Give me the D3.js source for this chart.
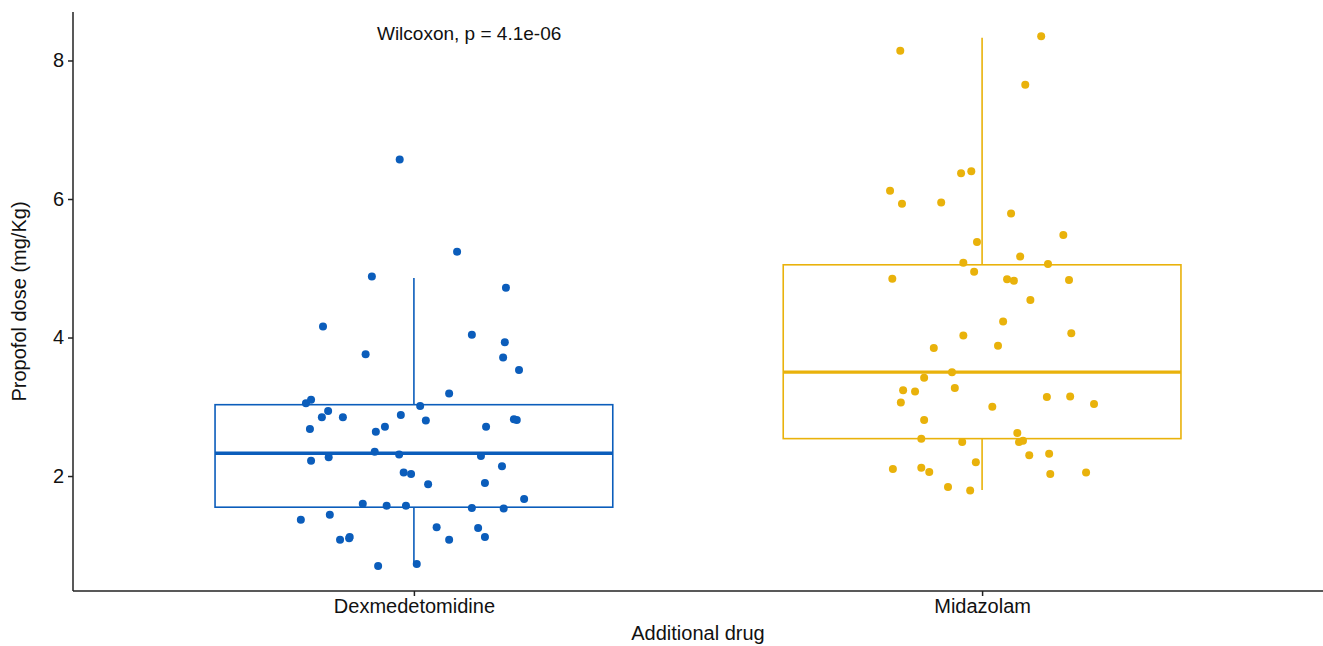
<!DOCTYPE html>
<html>
<head>
<meta charset="utf-8">
<script src="https://cdn.jsdelivr.net/npm/d3@7"></script>
<style>
  body { margin: 0; background: #fff; }
  svg { display: block; font-family: "Liberation Sans", Arial, sans-serif; }
</style>
</head>
<body>
<svg id="chart" width="1323" height="646"></svg>
<script>
// groups and colours
var groups = ["Dexmedetomidine", "Midazolam"];
var groupColors = ["#0b5dbb", "#e9b20b"];

// box stats: [whiskerLo, q1, median, q3, whiskerHi]
var dexBox = [0.73, 1.55, 2.33, 3.03, 4.86];
var midBox = [1.80, 2.54, 3.50, 5.05, 8.33];

// propofol dose per patient
var dexValues = [6.57, 5.24, 4.88, 4.72, 4.16, 4.04, 3.93, 3.76, 3.71, 3.53,
  3.19, 3.05, 3.10, 3.01, 2.94, 2.85, 2.85, 2.88, 2.80, 2.82,
  2.81, 2.71, 2.71, 2.64, 2.68, 2.35, 2.31, 2.29, 2.22, 2.27,
  2.14, 2.05, 2.03, 1.88, 1.90, 1.67, 1.60, 1.57, 1.57, 1.54,
  1.53, 1.44, 1.37, 1.26, 1.25, 1.08, 1.12, 1.10, 1.08, 1.12,
  0.70, 0.73];
// horizontal jitter (in category units)
var dexJitter = [-0.025, 0.076, -0.074, 0.162, -0.160, 0.102, 0.160, -0.085, 0.157, 0.185,
  0.062, -0.190, -0.181, 0.011, -0.151, -0.162, -0.125, -0.023, 0.021, 0.176,
  0.181, 0.127, -0.051, -0.067, -0.183, -0.069, -0.026, 0.118, -0.181, -0.150,
  0.155, -0.018, -0.005, 0.025, 0.125, 0.194, -0.090, -0.048, -0.014, 0.102,
  0.158, -0.148, -0.199, 0.040, 0.113, -0.130, -0.113, -0.114, 0.062, 0.125,
  -0.063, 0.005];

var midValues = [8.14, 8.35, 7.65, 6.37, 6.40, 6.12, 5.93, 5.95, 5.79, 5.48,
  5.38, 5.17, 5.08, 5.06, 4.95, 4.85, 4.84, 4.82, 4.83, 4.54,
  4.23, 4.03, 4.06, 3.88, 3.85, 3.50, 3.42, 3.24, 3.22, 3.27,
  3.06, 3.14, 3.15, 3.04, 3.00, 2.81, 2.62, 2.54, 2.49, 2.49,
  2.51, 2.30, 2.32, 2.20, 2.10, 2.12, 2.06, 2.03, 2.05, 1.84,
  1.79];
var midJitter = [-0.144, 0.104, 0.076, -0.037, -0.019, -0.162, -0.141, -0.072, 0.051, 0.143,
  -0.009, 0.067, -0.033, 0.116, -0.014, -0.158, 0.044, 0.056, 0.153, 0.085,
  0.037, -0.033, 0.157, 0.028, -0.085, -0.053, -0.102, -0.139, -0.118, -0.048,
  -0.143, 0.114, 0.155, 0.197, 0.018, -0.102, 0.062, -0.107, -0.035, 0.065,
  0.072, 0.083, 0.118, -0.011, -0.157, -0.107, -0.093, 0.120, 0.183, -0.060,
  -0.021];

var yTicks = [2, 4, 6, 8];
var pLabel = "Wilcoxon, p = 4.1e-06";

var chart = {};

chart.draw = function() {
  var svg = d3.select("#chart");
  var mLeft = 73, mRight = 1323, mTop = 12, mBottom = 591;

  var x = d3.scalePoint().domain(groups).range([mLeft, mRight]).padding(0.6);
  var step = x.step();
  var y = d3.scaleLinear().domain([0.34, 8.7]).range([mBottom, mTop]);
  var color = d3.scaleOrdinal().domain(groups).range(groupColors);

  var boxes = [
    { group: groups[0], s: dexBox },
    { group: groups[1], s: midBox }
  ];
  var points = [];
  dexValues.forEach(function(v, i) { points.push({ group: groups[0], value: v, jit: dexJitter[i] }); });
  midValues.forEach(function(v, i) { points.push({ group: groups[1], value: v, jit: midJitter[i] }); });

  var boxW = 0.7 * step;

  var box = svg.append("g").selectAll("g")
    .data(boxes)
    .enter().append("g")
    .attr("stroke", function(d) { return color(d.group); })
    .attr("fill", "none");

  // whiskers
  box.append("line")
    .attr("x1", function(d) { return x(d.group); })
    .attr("x2", function(d) { return x(d.group); })
    .attr("y1", function(d) { return y(d.s[3]); })
    .attr("y2", function(d) { return y(d.s[4]); })
    .attr("stroke-width", 1.6);
  box.append("line")
    .attr("x1", function(d) { return x(d.group); })
    .attr("x2", function(d) { return x(d.group); })
    .attr("y1", function(d) { return y(d.s[0]); })
    .attr("y2", function(d) { return y(d.s[1]); })
    .attr("stroke-width", 1.6);

  box.append("rect")
    .attr("x", function(d) { return x(d.group) - boxW / 2; })
    .attr("width", boxW)
    .attr("y", function(d) { return y(d.s[3]); })
    .attr("height", function(d) { return y(d.s[1]) - y(d.s[3]); })
    .attr("fill", "#fff")
    .attr("stroke-width", 1.6);

  box.append("line")
    .attr("x1", function(d) { return x(d.group) - boxW / 2; })
    .attr("x2", function(d) { return x(d.group) + boxW / 2; })
    .attr("y1", function(d) { return y(d.s[2]); })
    .attr("y2", function(d) { return y(d.s[2]); })
    .attr("stroke-width", 3.4);

  svg.append("g").selectAll("circle")
    .data(points)
    .enter().append("circle")
    .attr("cx", function(d) { return x(d.group) + d.jit * step; })
    .attr("cy", function(d) { return y(d.value); })
    .attr("r", 4)
    .attr("fill", function(d) { return color(d.group); });

  // axes
  var yAxis = svg.append("g")
    .attr("transform", "translate(" + mLeft + ",0)")
    .call(d3.axisLeft(y).tickValues(yTicks).tickSize(5).tickPadding(4).tickSizeOuter(0));
  var xAxis = svg.append("g")
    .attr("transform", "translate(0," + mBottom + ")")
    .call(d3.axisBottom(x).tickSize(5).tickPadding(3).tickSizeOuter(0));

  yAxis.select(".domain").attr("d", "M0," + mBottom + "V" + mTop);
  xAxis.select(".domain").attr("d", "M" + mLeft + ",0H" + mRight);
  [yAxis, xAxis].forEach(function(a) {
    a.attr("font-family", null);
    a.selectAll(".domain, line").attr("stroke", "#222").attr("stroke-width", 1.5);
    a.selectAll("text").attr("fill", "#111").style("font-size", "20px");
  });

  svg.append("text")
    .attr("transform", "translate(26," + ((mTop + mBottom) / 2) + ") rotate(-90)")
    .attr("text-anchor", "middle")
    .attr("fill", "#111")
    .style("font-size", "20px")
    .text("Propofol dose (mg/Kg)");

  svg.append("text")
    .attr("x", (mLeft + mRight) / 2)
    .attr("y", 640)
    .attr("text-anchor", "middle")
    .attr("fill", "#111")
    .style("font-size", "20px")
    .text("Additional drug");

  svg.append("text")
    .attr("x", x(groups[0]) - 0.065 * step)
    .attr("y", y(8.3))
    .attr("fill", "#111")
    .style("font-size", "19px")
    .text(pLabel);
};

chart.draw();
</script>
</body>
</html>
